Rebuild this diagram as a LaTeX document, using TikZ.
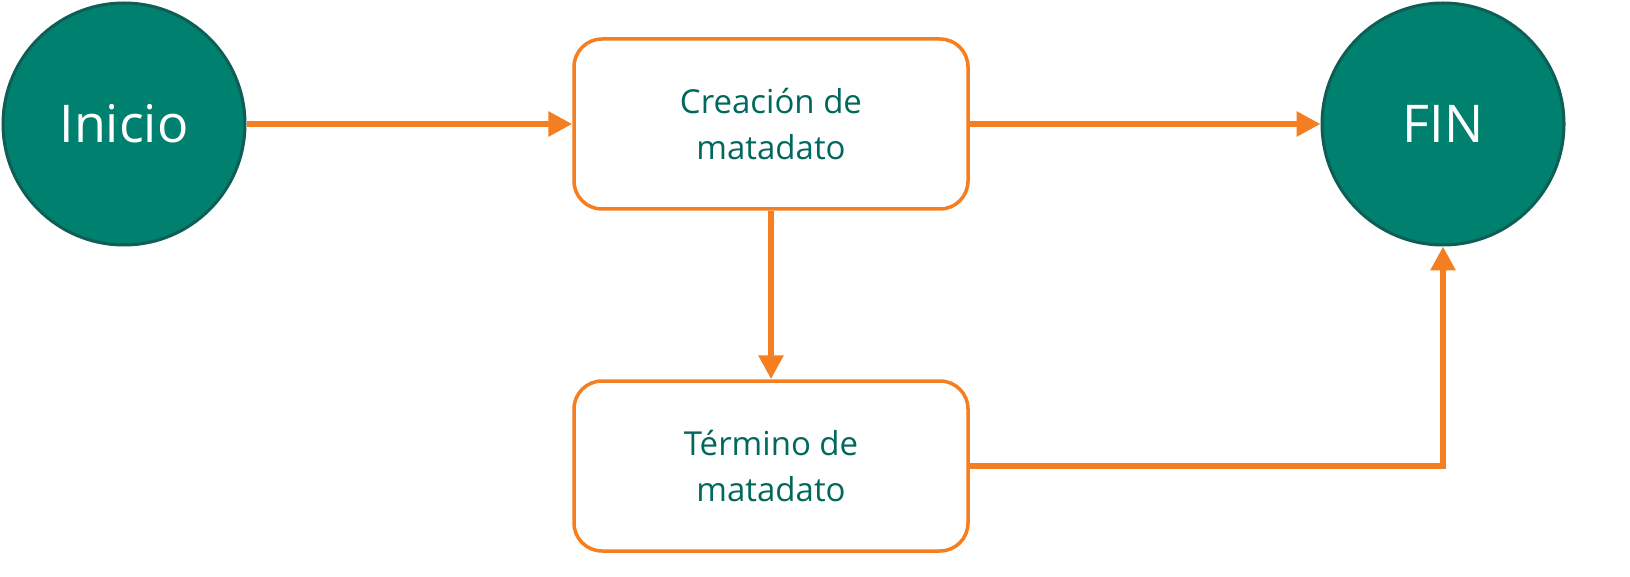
\documentclass[tikz,border=0pt]{standalone}
\usepackage{fontspec}
\setmainfont{Open Sans}
\usetikzlibrary{positioning,arrows.meta}
\definecolor{verde}{HTML}{00806E}
\definecolor{verdeborde}{HTML}{0E5E55}
\definecolor{naranja}{HTML}{F57F20}
\definecolor{texto}{HTML}{00685C}
\tikzset{
  estado/.style={circle,draw=verdeborde,line width=3pt,fill=verde,minimum size=242pt,
    text=white,font=\fontsize{52}{60}\selectfont,inner sep=0pt},
  paso/.style={rectangle,rounded corners=28pt,draw=naranja,line width=3.5pt,fill=white,
    minimum width=394pt,minimum height=170pt,text=texto,align=center,
    font=\fontsize{33}{46}\selectfont},
  flecha/.style={draw=naranja,line width=6pt,-{Triangle[length=24pt,width=24pt]}}
}
\begin{document}
\begin{tikzpicture}[x=1pt,y=-1pt]
  \fill[white] (0,0) rectangle (1630,577);

  %% nodos
  \node[estado] (inicio) at (124,124) {Inicio};
  \node[estado] (fin) at (1443,124) {FIN};
  \node[paso] (creacion) at (771,124) {Creación de\\matadato};
  \node[paso] (termino) at (771,466) {Término de\\matadato};

  %% conexiones
  \draw[flecha] (inicio) -- (creacion);
  \draw[flecha] (creacion) -- (fin);
  \draw[flecha] (creacion) -- (termino);
  \draw[flecha] (termino.east) -| (fin.south);
\end{tikzpicture}
\end{document}
